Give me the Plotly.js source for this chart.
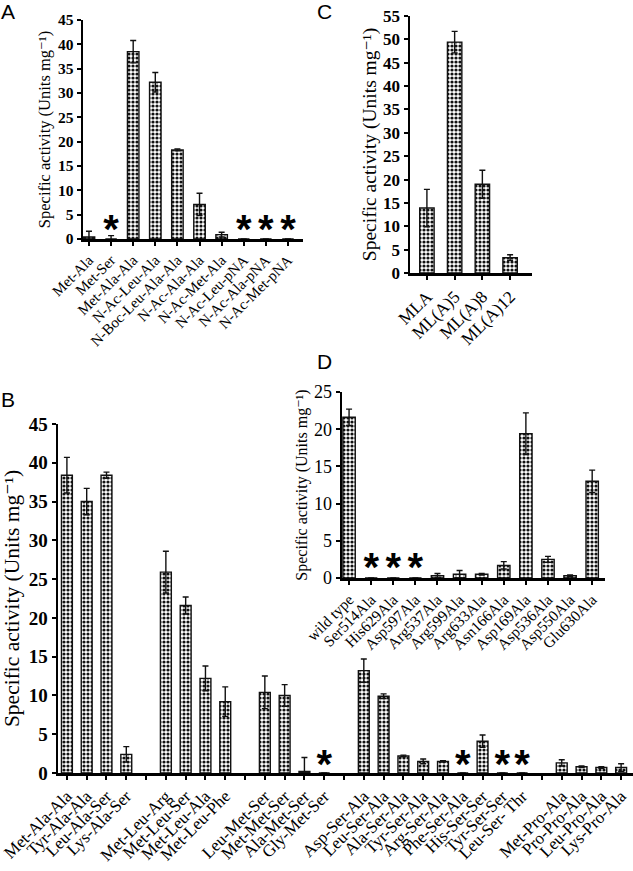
<!DOCTYPE html>
<html><head><meta charset="utf-8">
<script src="https://cdn.plot.ly/plotly-3.0.1.min.js"></script>
<style>html,body{margin:0;padding:0;background:#fff}#chart{width:633px;height:871px}</style>
</head><body><div id="chart"></div>
<script>
// ---- Panel A ----
const catsA = ['Met-Ala','Met-Ser','Met-Ala-Ala','N-Ac-Leu-Ala','N-Boc-Leu-Ala-Ala','N-Ac-Ala-Ala','N-Ac-Met-Ala','N-Ac-Leu-pNA','N-Ac-Ala-pNA','N-Ac-Met-pNA'];
const valsA = [0.4, 0, 38.5, 32.2, 18.3, 7.1, 0.9, 0, 0, 0];
const errA  = [1.2, 0.7, 2.3, 2.0, 0.2, 2.3, 0.5, 0, 0, 0];
const ndA   = [false, true, false, false, false, false, false, true, true, true];

// ---- Panel C ----
const catsC = ['MLA','ML(A)5','ML(A)8','ML(A)12'];
const valsC = [13.9, 49.4, 19.0, 3.3];
const errC  = [4.0, 2.3, 3.0, 0.6];

// ---- Panel B ('' = empty slot between substrate groups) ----
const catsB = ['Met-Ala-Ala','Tyr-Ala-Ala','Leu-Ala-Ser','Lys-Ala-Ser','',
  'Met-Leu-Arg','Met-Leu-Ser','Met-Leu-Ala','Met-Leu-Phe','',
  'Leu-Met-Ser','Met-Met-Ser','Ala-Met-Ser','Gly-Met-Ser','',
  'Asp-Ser-Ala','Leu-Ser-Ala','Ala-Ser-Ala','Tyr-Ser-Ala','Arg-Ser-Ala','Phe-Ser-Ala','His-Ser-Ser','Tyr-Ser-Ser','Leu-Ser- Thr','',
  'Met-Pro-Ala','Pro-Pro-Ala','Leu-Pro-Ala','Lys-Pro-Ala'];
const valsB = [38.4, 35.0, 38.4, 2.4, null,
  25.9, 21.6, 12.2, 9.2, null,
  10.4, 10.0, 0.2, 0, null,
  13.2, 9.9, 2.2, 1.5, 1.5, 0, 4.1, 0, 0, null,
  1.3, 0.8, 0.7, 0.7];
const errB  = [2.3, 1.7, 0.4, 1.0, null,
  2.7, 1.1, 1.6, 1.9, null,
  2.1, 1.4, 1.8, 0, null,
  1.5, 0.3, 0.1, 0.3, 0.1, 0, 0.8, 0, 0, null,
  0.4, 0.1, 0.1, 0.5];
const notDetectedB = ['Gly-Met-Ser','Phe-Ser-Ala','Tyr-Ser-Ser','Leu-Ser- Thr'];

// ---- Panel D ----
const catsD = ['wild type','Ser514Ala','His629Ala','Asp597Ala','Arg537Ala','Arg599Ala','Arg633Ala','Asn166Ala','Asp169Ala','Asp536Ala','Asp550Ala','Glu630Ala'];
const valsD = [21.6, 0, 0, 0, 0.3, 0.5, 0.5, 1.7, 19.4, 2.5, 0.3, 13.0];
const errD  = [1.1, 0, 0, 0, 0.3, 0.5, 0.1, 0.5, 2.8, 0.4, 0.1, 1.5];
const ndD   = [false, true, true, true, false, false, false, false, false, false, false, false];

const yTitle = 'Specific activity (Units mg\u207B\u00B9)';

const W = 633, H = 871;
const SERIF = '"Liberation Serif", "DejaVu Serif", "Times New Roman", serif';
const fx = p => p / W;
const fy = p => 1 - p / H;

function bars(xs, vals, errs, xa, ya, width) {
  return {
    type: 'bar', x: xs, y: vals, xaxis: xa, yaxis: ya, width: width,
    marker: {color: 'white', line: {color: '#111', width: 1.4},
      pattern: {shape: '.', size: 4, solidity: 0.5, fgcolor: '#111', bgcolor: 'white'}},
    error_y: {type: 'data', array: errs, visible: true, color: '#111', thickness: 1.4, width: 3},
    showlegend: false, hoverinfo: 'skip'
  };
}
function stars(xs, xa, ya, yval, size) {
  return {
    type: 'scatter', mode: 'text', x: xs, y: xs.map(() => yval), text: xs.map(() => '*'),
    textposition: 'middle center', xaxis: xa, yaxis: ya, cliponaxis: false,
    textfont: {family: '"Liberation Sans", Arial, sans-serif', size: size, color: '#000', weight: 'bold'},
    showlegend: false, hoverinfo: 'skip'
  };
}

// B uses a numeric axis built from the slot index of each category
const xB = catsB.map((c, i) => i);
const tickB = xB.filter(i => catsB[i] !== '');
const starB = xB.filter(i => notDetectedB.includes(catsB[i]));

const data = [
  bars(catsA, valsA, errA, 'x', 'y', 0.52),
  stars(catsA.filter((c, i) => ndA[i]), 'x', 'y', 1.2, 40),
  bars(catsC, valsC, errC, 'x2', 'y2', 0.52),
  bars(xB, valsB, errB, 'x3', 'y3', 0.55),
  stars(starB, 'x3', 'y3', 0.6, 40),
  bars(catsD, valsD, errD, 'x4', 'y4', 0.56),
  stars(catsD.filter((c, i) => ndD[i]), 'x4', 'y4', 1.0, 40)
];

const axisStyle = {showline: true, linewidth: 2.5, linecolor: '#000', ticks: 'outside', ticklen: 4,
  tickwidth: 2, tickcolor: '#000', showgrid: false, zeroline: false, fixedrange: true};

function xaxis(cats, dom, range, fs, anchor) {
  return Object.assign({domain: dom, anchor: anchor, type: 'category', categoryorder: 'array',
    categoryarray: cats, range: range, tickangle: -45,
    tickfont: {family: SERIF, size: fs, color: '#000'}}, axisStyle);
}
function yaxis(dom, range, fs, bold, titleSize, standoff, anchor) {
  return Object.assign({domain: dom, anchor: anchor, range: range, dtick: 5, tick0: 0,
    tickfont: {family: SERIF, size: fs, color: '#000', weight: bold ? 'bold' : 'normal'},
    title: {text: yTitle, standoff: standoff,
      font: {family: SERIF, size: titleSize, color: '#000'}}}, axisStyle);
}

const layout = {
  width: W, height: H, margin: {l: 0, r: 0, t: 0, b: 0},
  paper_bgcolor: 'white', plot_bgcolor: 'rgba(0,0,0,0)', showlegend: false, bargap: 0,
  xaxis:  xaxis(catsA, [fx(83), fx(303)], [-0.27, 9.68], 15, 'y'),
  yaxis:  yaxis([fy(239), fy(20)], [0, 45], 15.5, true, 16.5, 3, 'x'),
  xaxis2: xaxis(catsC, [fx(410), fx(532)], [-0.61, 3.79], 17.5, 'y2'),
  yaxis2: yaxis([fy(273), fy(16)], [0, 55], 17, true, 19.5, 2, 'x2'),
  xaxis3: Object.assign({domain: [fx(58), fx(633)], anchor: 'y3', type: 'linear', range: [-0.45, 28.6],
    tickmode: 'array', tickvals: tickB, ticktext: tickB.map(i => catsB[i]), tickangle: -45,
    minor: {tickmode: 'linear', tick0: 0, dtick: 1, ticks: 'outside', ticklen: 4, tickwidth: 2, tickcolor: '#000'},
    tickfont: {family: SERIF, size: 17, color: '#000'}}, axisStyle),
  yaxis3: yaxis([fy(773), fy(424)], [0, 45], 19, true, 21.5, 3, 'x3'),
  xaxis4: xaxis(catsD, [fx(342), fx(605)], [-0.32, 11.58], 15.5, 'y4'),
  yaxis4: yaxis([fy(578), fy(392)], [0, 25], 18, false, 16, 3, 'x4'),
  annotations: [
    ['A', 8, 12], ['C', 324, 12], ['B', 8, 400], ['D', 324, 361]
  ].map(([t, x, y]) => ({text: t, x: fx(x), y: fy(y), xref: 'paper', yref: 'paper',
    xanchor: 'center', yanchor: 'middle', showarrow: false,
    font: {family: '"Liberation Sans", Arial, sans-serif', size: 21, color: '#000'}}))
};

Plotly.newPlot('chart', data, layout, {staticPlot: true, displayModeBar: false});
</script>
</body></html>
